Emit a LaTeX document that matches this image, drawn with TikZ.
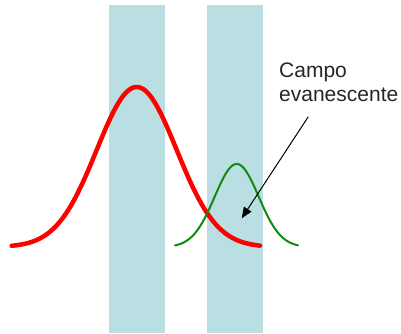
\documentclass[tikz,border=0pt]{standalone}
\usepackage{fontspec}
\setmainfont{Liberation Sans}
\usetikzlibrary{arrows.meta}
\definecolor{barblue}{HTML}{B9DFE2}
\definecolor{fieldgreen}{HTML}{128A12}
\tikzset{
  bar/.style={fill=barblue, draw=none},
  redwave/.style={draw=red, line width=4.5pt, line cap=round},
  greenwave/.style={draw=fieldgreen, line width=2pt, line cap=round},
  lbl/.style={font=\fontsize{21pt}{24pt}\selectfont, inner sep=0pt, anchor=base west, text=black!85},
  pointer/.style={draw=black, line width=1pt, -{Triangle[length=11pt,width=9pt]}}
}
\begin{document}
\begin{tikzpicture}[x=1pt,y=-1pt]
\useasboundingbox (0,0) rectangle (401,333);
\fill[white] (0,0) rectangle (401,333);
\path[bar] (109.3,5) rectangle (165.3,333);
\path[bar] (207.3,5) rectangle (263.3,333);
\draw[redwave] plot[domain=11.7:260, samples=120, smooth] (\x, {247-160*exp(-((\x-136.7)^2)/3200)});
\draw[greenwave] plot[domain=175:298, samples=100, smooth] (\x, {247-83*exp(-((\x-236.7)^2)/968)});
\node[lbl] (label1) at (279,77.7) {Campo};
\node[lbl] (label2) at (279,101.7) {evanescente};
\coordinate (arrowstart) at (308.3,116.7);
\coordinate (arrowend) at (241.7,218.3);
\draw[pointer] (arrowstart) -- (arrowend);
\end{tikzpicture}
\end{document}
